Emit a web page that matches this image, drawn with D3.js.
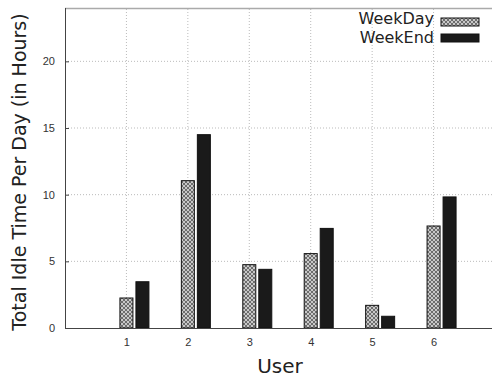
<!DOCTYPE html>
<html lang="en">
<head>
<meta charset="UTF-8">
<title>Total Idle Time Per Day</title>
<script src="https://d3js.org/d3.v7.min.js"></script>
<style>
  body { margin: 0; background: #fff; }
  svg { display: block; font-family: "DejaVu Sans", sans-serif; }
  .tick text { font-size: 11px; fill: #333; }
  .grid line { stroke: #bbb; stroke-dasharray: 1,2; }
  .axis-title { fill: #222; }
  .legend text { font-size: 16px; fill: #222; }
</style>
</head>
<body>
<svg width="492" height="378"></svg>
<script>
// Data
const users = [1, 2, 3, 4, 5, 6];
const weekDay = [2.25, 11.05, 4.75, 5.58, 1.7, 7.65];
const weekEnd = [3.47, 14.5, 4.4, 7.47, 0.88, 9.83];
const yTicks = [0, 5, 10, 15, 20];
const seriesNames = ["WeekDay", "WeekEnd"];

const svg = d3.select("svg");
const margin = { left: 65, top: 8, bottom: 50 };
const W = 492, H = 378;

const x = d3.scaleLinear().domain([0, 7]).range([margin.left, 495]);
const y = d3.scaleLinear().domain([0, 24]).range([H - margin.bottom, margin.top]);

// pattern for WeekDay
const defs = svg.append("defs");
const pat = defs.append("pattern")
  .attr("id", "hatch")
  .attr("patternUnits", "userSpaceOnUse")
  .attr("width", 4).attr("height", 4);
pat.append("rect").attr("width", 4).attr("height", 4).attr("fill", "#c8c8c8");
pat.append("path").attr("d", "M0,0L4,4M4,0L0,4").attr("stroke", "#555").attr("stroke-width", 0.8);

// grid
svg.append("g").attr("class", "grid")
  .selectAll("line.h").data(yTicks.slice(1)).join("line")
  .attr("x1", margin.left).attr("x2", W)
  .attr("y1", d => y(d)).attr("y2", d => y(d));
svg.append("g").attr("class", "grid")
  .selectAll("line.v").data(users).join("line")
  .attr("x1", d => x(d)).attr("x2", d => x(d))
  .attr("y1", y(0)).attr("y2", margin.top);

// top border
svg.append("line")
  .attr("x1", margin.left).attr("x2", W)
  .attr("y1", margin.top + 0.5).attr("y2", margin.top + 0.5)
  .attr("stroke", "#aaa").attr("stroke-width", 1.5);

// bars
const barW = 13, gap = 3;
const bars = svg.append("g");
bars.selectAll("rect.wd").data(weekDay).join("rect")
  .attr("x", (d, i) => x(users[i]) - barW / 2)
  .attr("y", d => y(d))
  .attr("width", barW)
  .attr("height", d => y(0) - y(d))
  .attr("fill", "url(#hatch)")
  .attr("stroke", "#111").attr("stroke-width", 1);
bars.selectAll("rect.we").data(weekEnd).join("rect")
  .attr("x", (d, i) => x(users[i]) + barW / 2 + gap)
  .attr("y", d => y(d))
  .attr("width", barW)
  .attr("height", d => y(0) - y(d))
  .attr("fill", "#1a1a1a")
  .attr("stroke", "#111").attr("stroke-width", 1);

// axes
const yAxis = svg.append("g")
  .attr("transform", `translate(${margin.left},0)`)
  .call(d3.axisLeft(y).tickValues(yTicks).tickFormat(d3.format("d")).tickSize(-4).tickPadding(10));
yAxis.select(".domain").attr("stroke", "#444").attr("d", `M0.5,${margin.top}V${y(0)}`);
yAxis.selectAll(".tick line").attr("stroke", "#444");

const xAxis = svg.append("g")
  .attr("transform", `translate(0,${y(0)})`)
  .call(d3.axisBottom(x).tickValues(users).tickFormat(d3.format("d")).tickSize(0).tickPadding(10));
xAxis.select(".domain").attr("stroke", "#444").attr("d", `M${margin.left},0.5H${W}`);

// axis titles
svg.append("text").attr("class", "axis-title")
  .attr("transform", `translate(26,${(margin.top + y(0)) / 2 + 4}) rotate(-90)`)
  .attr("text-anchor", "middle")
  .style("font-size", "19px")
  .text("Total Idle Time Per Day (in Hours)");
svg.append("text").attr("class", "axis-title")
  .attr("x", 280).attr("y", 373)
  .attr("text-anchor", "middle")
  .style("font-size", "20px")
  .text("User");

// legend
const legend = svg.append("g").attr("class", "legend");
const fills = ["url(#hatch)", "#1a1a1a"];
seriesNames.forEach((name, i) => {
  legend.append("text")
    .attr("x", 434).attr("y", 24 + i * 19)
    .attr("text-anchor", "end")
    .text(name);
  legend.append("rect")
    .attr("x", 441).attr("y", 18 + i * 16)
    .attr("width", 38).attr("height", 8)
    .attr("fill", fills[i])
    .attr("stroke", "#111").attr("stroke-width", 1);
});
</script>
</body>
</html>
